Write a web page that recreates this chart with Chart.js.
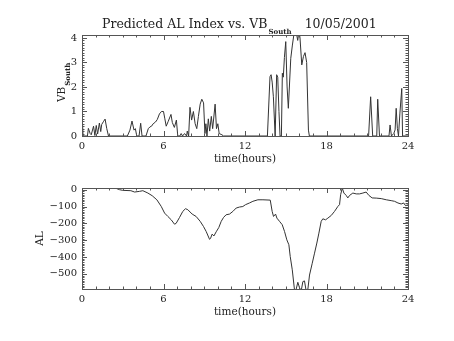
<!DOCTYPE html>
<html>
<head>
<meta charset="utf-8">
<script src="https://cdn.jsdelivr.net/npm/chart.js@4/dist/chart.umd.min.js"></script>
<style>
  html,body{margin:0;padding:0;background:#fff;}
  #wrap{position:relative;width:454px;height:341px;}
  #wrap canvas{position:absolute;left:0;}
  #topChart{top:0;}
  #botChart{top:170px;}
</style>
</head>
<body>
<div id="wrap">
  <canvas id="topChart" width="454" height="170"></canvas>
  <canvas id="botChart" width="454" height="171"></canvas>
</div>
<script>
/* ------------ data ------------ */
const TITLE_MAIN = 'Predicted AL Index vs. VB';
const TITLE_SUB  = 'South';
const TITLE_DATE = '10/05/2001';
const X_TITLE    = 'time(hours)';
const HOUR_TICKS = [0, 6, 12, 18, 24];

// VB south (top panel)
const vbHours = [0.00,0.08,0.40,0.47,0.60,0.68,0.85,0.95,1.05,1.15,1.28,1.38,1.45,1.57,1.70,1.82,1.95,
  3.34,3.53,3.68,3.83,3.93,4.03,4.20,4.32,4.42,4.71,4.88,5.00,5.12,5.24,5.41,5.54,5.70,5.85,6.00,
  6.10,6.20,6.35,6.55,6.65,6.80,6.95,7.05,7.20,7.30,7.40,7.55,7.70,7.75,7.85,7.95,8.07,8.20,8.33,
  8.45,8.57,8.70,8.82,8.95,9.05,9.12,9.20,9.30,9.40,9.52,9.62,9.80,9.90,10.00,10.10,10.30,10.42,
  13.65,13.84,13.92,14.00,14.09,14.22,14.33,14.41,14.50,14.58,14.68,14.75,14.82,14.90,15.00,15.10,
  15.19,15.37,15.49,15.64,15.75,15.81,15.88,15.98,16.05,16.18,16.30,16.42,16.54,16.67,16.74,
  21.10,21.25,21.40,21.70,21.77,21.90,22.60,22.68,22.78,22.95,23.05,23.13,23.22,23.30,23.40,23.54,
  23.60,24.00];
const vbSouth = [0.90,0.00,0.00,0.31,0.10,0.05,0.40,0.02,0.43,0.08,0.53,0.18,0.47,0.58,0.69,0.31,0.00,
  0.00,0.24,0.61,0.24,0.30,0.00,0.00,0.52,0.00,0.00,0.30,0.37,0.40,0.50,0.57,0.67,0.90,1.00,1.00,
  0.70,0.40,0.60,0.88,0.55,0.35,0.65,0.00,0.00,0.10,0.00,0.10,0.00,0.20,0.00,1.17,0.65,1.00,0.50,
  0.30,0.80,1.30,1.50,1.35,0.10,0.50,0.00,0.70,0.20,0.80,0.30,1.30,0.30,0.50,0.10,0.05,0.00,
  0.00,2.42,2.50,2.20,1.60,0.00,2.50,2.40,1.00,0.00,0.00,2.56,2.40,3.20,3.85,2.00,
  1.13,3.17,3.71,4.30,4.20,4.12,3.90,4.30,4.00,2.90,3.24,3.40,3.00,0.24,0.00,
  0.00,1.60,0.00,0.00,1.50,0.00,0.00,0.45,0.00,0.10,0.25,1.13,0.30,0.00,0.90,1.94,
  0.00,0.00];
const VB_TICKS = [0, 1, 2, 3, 4];

// AL index (bottom panel)
const alHours = [0.00,2.50,2.76,3.00,3.60,3.87,4.23,4.48,4.85,5.17,5.51,5.83,6.08,6.32,6.57,6.81,6.93,
  7.18,7.42,7.62,7.79,8.11,8.40,8.70,8.94,9.14,9.39,9.46,9.58,9.71,9.88,10.07,10.25,10.42,10.61,
  10.86,11.11,11.35,11.60,11.84,12.04,12.33,12.58,12.95,13.32,13.86,14.00,14.10,14.25,14.35,14.54,
  14.74,14.91,15.08,15.23,15.33,15.48,15.65,15.77,15.89,16.01,16.14,16.26,16.38,16.50,16.63,16.75,
  16.95,17.12,17.29,17.44,17.61,17.73,17.93,18.10,18.35,18.59,18.84,18.96,19.04,19.16,19.28,19.45,
  19.57,19.70,19.94,20.19,20.43,20.68,20.92,21.12,21.36,21.66,22.03,22.40,22.76,23.01,23.26,23.50,
  23.68,23.82,24.00];
const alIndex = [8,8,0,-4,-6,-14,-10,-6,-20,-36,-60,-99,-139,-159,-179,-205,-200,
  -165,-129,-113,-119,-145,-159,-188,-218,-248,-295,-290,-264,-275,-250,-225,-188,-165,-149,
  -145,-129,-109,-103,-100,-89,-79,-69,-60,-60,-62,-129,-159,-145,-169,-188,
  -208,-248,-298,-327,-397,-476,-600,-590,-550,-582,-600,-546,-542,-600,-590,-507,
  -437,-377,-317,-258,-188,-173,-179,-169,-153,-129,-99,-89,-30,10,-20,-34,
  -49,-34,-20,-25,-25,-20,-14,-34,-49,-50,-53,-60,-65,-69,-79,-85,
  -79,-95,-90];
const AL_TICKS = [-500, -400, -300, -200, -100, 0];

/* ------------ look ------------ */
const SERIF = '"DejaVu Serif", serif';
const INK   = '#222';
const FRAME = '#555';

/* frame, inward ticks on all four sides, titles with subscripts */
const idlFrame = {
  id: 'idlFrame',
  afterDraw(chart, args, o){
    const {ctx, chartArea: a, scales:{x, y}} = chart;
    ctx.save();
    ctx.strokeStyle = FRAME; ctx.lineWidth = 1;
    ctx.strokeRect(a.left + .5, a.top + .5, a.right - a.left, a.bottom - a.top);
    ctx.beginPath();
    for(let h = x.min; h <= x.max + 1e-9; h += o.xMinor){
      const px = Math.round(x.getPixelForValue(h)) + .5;
      const len = Math.abs(h % 6) < 1e-6 ? 5 : 2.5;
      ctx.moveTo(px, a.bottom); ctx.lineTo(px, a.bottom - len);
      ctx.moveTo(px, a.top);    ctx.lineTo(px, a.top + len);
    }
    const first = Math.ceil(y.min / o.yMinor) * o.yMinor;
    for(let v = first; v <= y.max + 1e-9; v += o.yMinor){
      const py = Math.round(y.getPixelForValue(v)) + .5;
      const major = Math.abs(v / o.yMajor - Math.round(v / o.yMajor)) < 1e-6;
      const len = major ? 5 : 2.5;
      ctx.moveTo(a.left, py);  ctx.lineTo(a.left + len, py);
      ctx.moveTo(a.right, py); ctx.lineTo(a.right - len, py);
    }
    ctx.stroke();

    ctx.fillStyle = INK;
    ctx.textBaseline = 'alphabetic';
    if(o.title){
      ctx.font = `12.5px ${SERIF}`;
      let tx = 102;
      ctx.fillText(TITLE_MAIN, tx, 28);
      tx += ctx.measureText(TITLE_MAIN).width + 1;
      ctx.font = `bold 7px ${SERIF}`;
      ctx.fillText(TITLE_SUB, tx, 34);
      tx += ctx.measureText(TITLE_SUB).width + 13;
      ctx.font = `12.5px ${SERIF}`;
      ctx.fillText(TITLE_DATE, tx, 28);
    }
    if(o.yLabel){
      ctx.translate(65, 102);
      ctx.rotate(-Math.PI / 2);
      ctx.font = `10.5px ${SERIF}`;
      ctx.fillText(o.yLabel, 0, 0);
      const w = ctx.measureText(o.yLabel).width;
      ctx.font = `bold 7px ${SERIF}`;
      ctx.fillText(o.yLabelSub, w + 1, 5);
    }
    ctx.restore();
  }
};

function hourAxis(){
  return {
    type:'linear', min:0, max:24,
    afterFit: s => { s.height = 30; },
    afterBuildTicks: s => { s.ticks = HOUR_TICKS.map(v => ({value:v})); },
    grid:{display:false, drawTicks:false},
    border:{display:false},
    ticks:{padding:4, color:INK, font:{family:SERIF, size:10}, callback: v => String(v)},
    title:{display:true, text:X_TITLE, color:INK, padding:0, font:{family:SERIF, size:10.5}}
  };
}

function valueAxis(min, max, ticks, title){
  return {
    type:'linear', min, max,
    afterFit: s => { s.width = 50; },
    afterBuildTicks: s => { s.ticks = ticks.map(v => ({value:v})); },
    grid:{display:false, drawTicks:false},
    border:{display:false},
    ticks:{padding:5, color:INK, font:{family:SERIF, size:10},
           callback: v => String(v).replace('-', '\u2212')},
    title:{display:!!title, text:title || '', color:INK, padding:{top:2, bottom:0}, font:{family:SERIF, size:10.5}}
  };
}

function lineSet(xs, ys){
  return [{data: xs.map((h, i) => ({x:h, y:ys[i]})), borderColor:'#333', borderWidth:1,
           pointRadius:0, tension:0, fill:false}];
}

const common = {
  responsive:false, animation:false,
  plugins:{legend:{display:false}, tooltip:{enabled:false}, title:{display:false}}
};

/* ------------ VB south ------------ */
new Chart(document.getElementById('topChart'), {
  type:'line',
  data:{datasets: lineSet(vbHours, vbSouth)},
  options:{...common,
    layout:{padding:{left:32, right:46, top:35, bottom:4}},
    scales:{x: hourAxis(), y: valueAxis(0, 4.12, VB_TICKS, '')},
    plugins:{...common.plugins, idlFrame:{title:true, yLabel:'VB', yLabelSub:'South', xMinor:1, yMinor:0.1, yMajor:1}}
  },
  plugins:[idlFrame]
});

/* ------------ AL index ------------ */
new Chart(document.getElementById('botChart'), {
  type:'line',
  data:{datasets: lineSet(alHours, alIndex)},
  options:{...common,
    layout:{padding:{left:32, right:46, top:18, bottom:22}},
    scales:{x: hourAxis(), y: valueAxis(-590, 10, AL_TICKS, 'AL')},
    plugins:{...common.plugins, idlFrame:{title:false, xMinor:1, yMinor:10, yMajor:100}}
  },
  plugins:[idlFrame]
});
</script>
</body>
</html>
